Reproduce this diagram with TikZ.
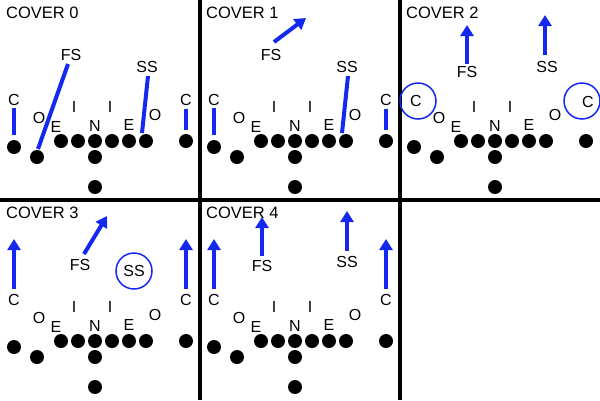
\documentclass[tikz,border=0pt]{standalone}
\usepackage{fontspec}
\setmainfont{Liberation Sans}
\begin{document}
\begin{tikzpicture}[x=1pt,y=-1pt,
  pl/.style={circle,fill=black,inner sep=0pt,minimum size=14pt},
  lb/.style={inner sep=0pt,font=\fontsize{16}{16}\selectfont},
  ttl/.style={inner sep=0pt,anchor=west,font=\fontsize{16.5}{16}\selectfont},
  bl/.style={draw={rgb,255:red,20;green,40;blue,240},line width=4pt},
  ba/.style={bl,-{Triangle[length=11pt,width=13pt]}},
  ring/.style={circle,draw={rgb,255:red,20;green,40;blue,240},line width=1.5pt,minimum size=36pt,inner sep=0pt}]
\usetikzlibrary{arrows.meta}
\path[use as bounding box] (0,0) rectangle (600,400);
\fill[white] (0,0) rectangle (600,400);
\draw[line width=4pt] (200,0)--(200,400) (400,0)--(400,400) (0,200)--(600,200);
\foreach \i/\ox/\oy in {0/0/0,1/200/0,2/400/0,3/0/200,4/200/200}{
  \begin{scope}[shift={(\ox,\oy)}]
  \node[ttl] (t\i) at (6,13) {COVER \i};
  \node[pl] (lc\i) at (14,147) {};
  \node[pl] (lo\i) at (37,157) {};
  \foreach \k/\x in {1/61,2/78,3/95,4/112,5/129,6/146}{\node[pl] (d\i\k) at (\x,141) {};}
  \node[pl] (q\i) at (95,157) {};
  \node[pl] (b\i) at (95,187) {};
  \node[pl] (rc\i) at (186,141) {};
  \node[lb] (lO\i) at (39,118) {O};
  \node[lb] (lE\i) at (56,127) {E};
  \node[lb] (lI\i) at (74,107) {I};
  \node[lb] (lN\i) at (95,126) {N};
  \node[lb] (lJ\i) at (110,107) {I};
  \node[lb] (lF\i) at (129,125) {E};
  \node[lb] (lP\i) at (155,115) {O};
  \end{scope}}
% cover 0
\node[lb] (fs0) at (71,55) {FS};
\node[lb] (ss0) at (147,67) {SS};
\node[lb] (cl0) at (14,100) {C};
\node[lb] (cr0) at (186,100) {C};
\draw[bl] (14,108)--(14,135);
\draw[bl] (186,109)--(186,130);
\draw[bl] (68,64)--(38,149);
\draw[bl] (148,76)--(142,133);
% cover 1
\node[lb] (fs1) at (271,55) {FS};
\node[lb] (ss1) at (347,67) {SS};
\node[lb] (cl1) at (214,100) {C};
\node[lb] (cr1) at (386,100) {C};
\coordinate (fa1) at (306,18);
\draw[ba] (274,42)--(fa1);
\draw[bl] (214,108)--(214,135);
\draw[bl] (386,109)--(386,130);
\draw[bl] (348,76)--(342,133);
% cover 2
\node[lb] (fs2) at (467,72) {FS};
\node[lb] (ss2) at (547,67) {SS};
\node[lb] (cl2) at (416,101) {C};
\node[lb] (cr2) at (588,102) {C};
\node[ring] (rl2) at (418,101) {};
\node[ring] (rr2) at (582,101) {};
\coordinate (fa2) at (467,25);
\coordinate (sa2) at (545,15);
\draw[ba] (467,64)--(fa2);
\draw[ba] (545,55)--(sa2);
% cover 3
\node[lb] (fs3) at (80,265) {FS};
\node[lb] (ss3) at (134,271) {SS};
\node[ring] (rs3) at (134,271) {};
\node[lb] (cl3) at (14,300) {C};
\node[lb] (cr3) at (186,300) {C};
\coordinate (fa3) at (107,216);
\coordinate (la3) at (14,239);
\coordinate (ra3) at (186,239);
\draw[ba] (84,254)--(fa3);
\draw[ba] (14,289)--(la3);
\draw[ba] (186,289)--(ra3);
% cover 4
\node[lb] (fs4) at (262,266) {FS};
\node[lb] (ss4) at (347,262) {SS};
\node[lb] (cl4) at (214,300) {C};
\node[lb] (cr4) at (386,300) {C};
\coordinate (fa4) at (262,217);
\coordinate (sa4) at (347,211);
\coordinate (la4) at (214,239);
\coordinate (ra4) at (386,239);
\draw[ba] (262,256)--(fa4);
\draw[ba] (347,251)--(sa4);
\draw[ba] (214,289)--(la4);
\draw[ba] (386,289)--(ra4);
\end{tikzpicture}
\end{document}
